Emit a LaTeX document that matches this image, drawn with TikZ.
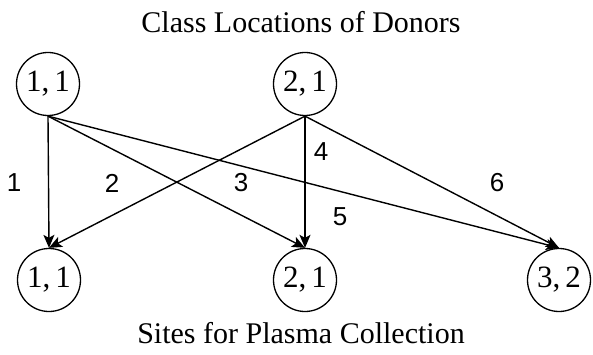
\documentclass[tikz,border=0pt]{standalone}
\usepackage{fontspec}
\setmainfont{Liberation Serif}
\newfontfamily\lblfont{Liberation Sans}
\usetikzlibrary{arrows.meta}
\begin{document}
\begin{tikzpicture}[x=1pt,y=-1pt,
  vtx/.style={draw,circle,line width=1.3pt,minimum size=63pt,inner sep=0pt,font=\fontsize{31}{34}\selectfont},
  edge/.style={line width=1.4pt,-{Stealth[length=13pt,width=11pt,inset=3pt]}},
  lbl/.style={font=\lblfont\fontsize{26}{30}\selectfont},
  ttl/.style={font=\fontsize{30}{34}\selectfont}]
\useasboundingbox (0,0) rectangle (593,355);
\node[ttl] (t1) at (301,22) {Class Locations of Donors};
\node[ttl] (t2) at (301,333) {Sites for Plasma Collection};
\node[vtx] (a) at (48,84) {1,\,1};
\node[vtx] (b) at (305,84) {2,\,1};
\node[vtx] (c) at (49,280) {1,\,1};
\node[vtx] (d) at (305,280) {2,\,1};
\node[vtx] (e) at (559,280) {3,\,2};
\draw[edge] (a.south) -- (c.north);
\draw[edge] (a.south) -- (d.north);
\draw[edge] (a.south) -- (e.north);
\draw[edge] (b.south) -- (c.north);
\draw[edge] (b.south) -- (d.north);
\draw[edge] (b.south) -- (e.north);
\node[lbl] (l1) at (14,183) {1};
\node[lbl] (l2) at (112,183) {2};
\node[lbl] (l3) at (241,183) {3};
\node[lbl] (l4) at (321,152) {4};
\node[lbl] (l5) at (340,217) {5};
\node[lbl] (l6) at (497,183) {6};
\end{tikzpicture}
\end{document}
